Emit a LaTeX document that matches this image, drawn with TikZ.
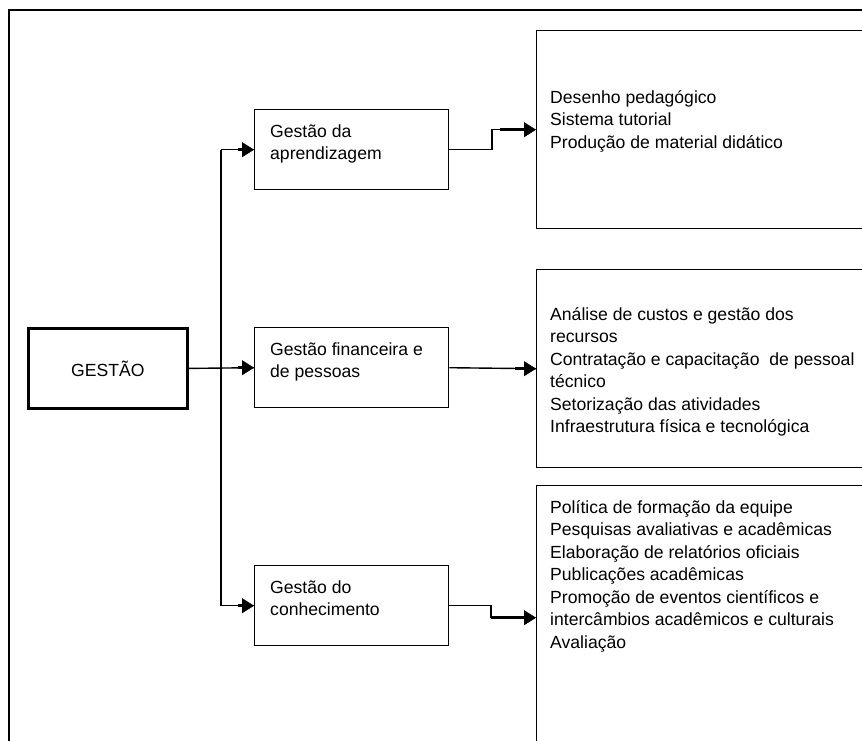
\documentclass[tikz,border=0pt]{standalone}
\usepackage{fontspec}
\setmainfont{Liberation Sans}
\usetikzlibrary{arrows.meta,calc}
\begin{document}
\begin{tikzpicture}[x=1pt,y=-1pt,
  box/.style={draw, line width=1.4pt, inner sep=0pt, anchor=north west},
  midbox/.style={box, minimum width=194pt, minimum height=80pt},
  txt/.style={anchor=base west, inner sep=0pt, font=\fontsize{17.6}{22.5}\selectfont},
  conn/.style={line width=1.4pt},
  thkl/.style={line width=2.6pt, -{Triangle[length=12pt,width=15pt,line width=0.4pt]}},
  thkr/.style={line width=3.2pt, -{Triangle[length=12pt,width=15pt,line width=0.4pt]}}
]
\clip (0,0) rectangle (862,740);
% frame
\draw[line width=2.8pt] (8,10) -- (870,10);
\draw[line width=1.6pt] (9,9) -- (9,750);
% boxes
\node[box, line width=2.8pt, minimum width=159pt, minimum height=80pt] (g) at (27,327) {};
\node[font=\fontsize{17.6}{22.5}\selectfont, inner sep=0pt] (gt) at (g.center) {GESTÃO};
\node[midbox] (ga) at (254,109) {};
\node[midbox] (gb) at (254,327) {};
\node[midbox] (gc) at (254,565) {};
\node[box, minimum width=340pt, minimum height=198pt] (r1) at (536,30) {};
\node[box, minimum width=340pt, minimum height=198pt] (r2) at (536,269) {};
\node[box, minimum width=340pt, minimum height=264pt] (r3) at (536,485) {};
% texts
\node[txt] (tga) at (270,137) {\vtop{\hbox{Gestão da}\hbox{aprendizagem}}};
\node[txt] (tgb) at (270,355) {\vtop{\hbox{Gestão financeira e}\hbox{de pessoas}}};
\node[txt] (tgc) at (270,593) {\vtop{\hbox{Gestão do}\hbox{conhecimento}}};
\node[txt] (tr1) at (550,103) {\vtop{\hbox{Desenho pedagógico}\hbox{Sistema tutorial}\hbox{Produção de material didático}}};
\node[txt] (tr2) at (550,320) {\vtop{\hbox{Análise de custos e gestão dos}\hbox{recursos}\hbox{Contratação e capacitação\ \ de pessoal}\hbox{técnico}\hbox{Setorização das atividades}\hbox{Infraestrutura física e tecnológica}}};
\node[txt] (tr3) at (550,513) {\vtop{\hbox{Política de formação da equipe}\hbox{Pesquisas avaliativas e acadêmicas}\hbox{Elaboração de relatórios oficiais}\hbox{Publicações acadêmicas}\hbox{Promoção de eventos científicos e}\hbox{intercâmbios acadêmicos e culturais}\hbox{Avaliação}}};
% left connectors
\coordinate (jx) at (221,0);
\draw[conn] (g.east) -- (gb.west);
\draw[conn] (ga.west -| jx) -- (gc.west -| jx);
\draw[conn] (ga.west -| jx) -- (ga.west);
\draw[conn] (gc.west -| jx) -- (gc.west);
\draw[thkl] ($(ga.west)+(-16,0)$) -- (ga.west);
\draw[thkl] ($(gb.west)+(-16,0)$) -- (gb.west);
\draw[thkl] ($(gc.west)+(-16,0)$) -- (gc.west);
% right connectors
\coordinate (ka) at (492,0);
\coordinate (kc) at (491,0);
\draw[conn] (ga.east) -- (ga.east -| ka) |- ($(r1.west)+(-36,0)$);
\draw[thkr] ($(r1.west)+(-36,0)$) -- (r1.west);
\draw[conn] (gb.east) -- (r2.west);
\draw[thkr] ($(r2.west)+(-21,0)$) -- (r2.west);
\draw[conn] (gc.east) -- (gc.east -| kc) -- (r3.west -| kc);
\draw[thkr] (r3.west -| kc) -- (r3.west);
\end{tikzpicture}
\end{document}
